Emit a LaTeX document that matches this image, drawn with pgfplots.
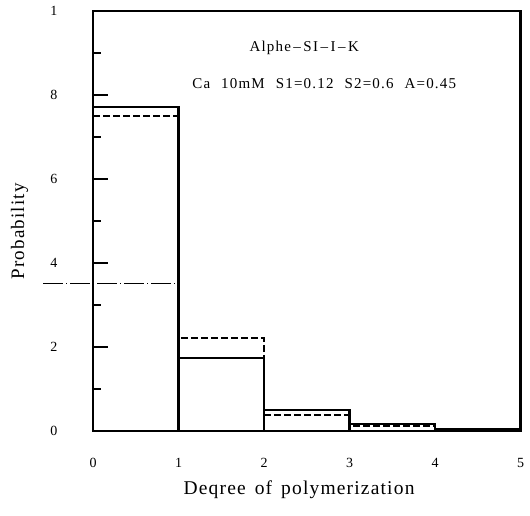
\documentclass[border=0pt]{standalone}
\usepackage{fontspec}
\setmainfont{Liberation Serif}
\usepackage{pgfplots}
\pgfplotsset{compat=1.18}
\begin{document}
\begin{tikzpicture}
\begin{axis}[
  scale only axis, width=427.5pt, height=420pt,
  xmin=0, xmax=5, ymin=0, ymax=1,
  clip=false,
  axis line style={line width=2.8pt},
  xtick={0,1,2,3,4,5},
  xticklabels={0,1,2,3,4,5},
  xtick style={draw=none},
  xticklabel style={font=\fontsize{14}{16}\selectfont, yshift=-24pt},
  ytick={0,0.2,0.4,0.6,0.8,1},
  yticklabels={0,2,4,6,8,1},
  minor ytick={0.1,0.3,0.5,0.7,0.9},
  ytick pos=left,
  tick align=inside,
  major tick length=15pt, minor tick length=8pt,
  ytick style={line width=2.2pt, black},
  yticklabel style={font=\fontsize{14}{16}\selectfont, xshift=-32pt},
  /pgf/number format/assume math mode=true,
  xlabel={\addfontfeatures{LetterSpace=6}Deqree\hspace{9pt}of\hspace{9pt}polymerization},
  xlabel style={font=\fontsize{19.5}{22}\selectfont, at={(axis description cs:0.482,-0.140)}, anchor=center},
  ylabel={\addfontfeatures{LetterSpace=6}Probability},
  ylabel style={font=\fontsize{19}{22}\selectfont, at={(axis description cs:-0.172,0.475)}, anchor=center, rotate=0},
]
\addplot[ybar interval, draw=black, fill=none, line width=2.4pt]
  coordinates {(0,0.771)(1,0.174)(2,0.050)(3,0.017)(4,0.004)(5,0.004)};
\addplot[const plot, black, dashed, line width=2.4pt, dash pattern=on 7pt off 3pt]
  coordinates {(0,0.750)(1,0.221)(2,0.038)(3,0.012)(4,0.003)(5,0.003)};
\addplot[black, line width=0.6pt, dash pattern=on 20pt off 3pt on 1pt off 3pt]
  coordinates {(-0.58,0.352)(1,0.352)};
\node[font=\fontsize{15}{17}\selectfont] at (axis cs:2.47,0.912) {\addfontfeatures{LetterSpace=8}Alphe{\,}--{\,}SI{\,}--{\,}I{\,}--{\,}K};
\node[font=\fontsize{15}{17}\selectfont, anchor=west] at (axis cs:1.12,0.826) {\addfontfeatures{LetterSpace=8}Ca\hspace{11pt}10mM\hspace{11pt}S1=0.12\hspace{11pt}S2=0.6\hspace{11pt}A=0.45};
\coordinate (bl) at (axis cs:-1.088,-0.202);
\coordinate (tr) at (axis cs:5.111,1.026);
\end{axis}
\pgfresetboundingbox
\path[use as bounding box] (bl) rectangle (tr);
\end{tikzpicture}
\end{document}
